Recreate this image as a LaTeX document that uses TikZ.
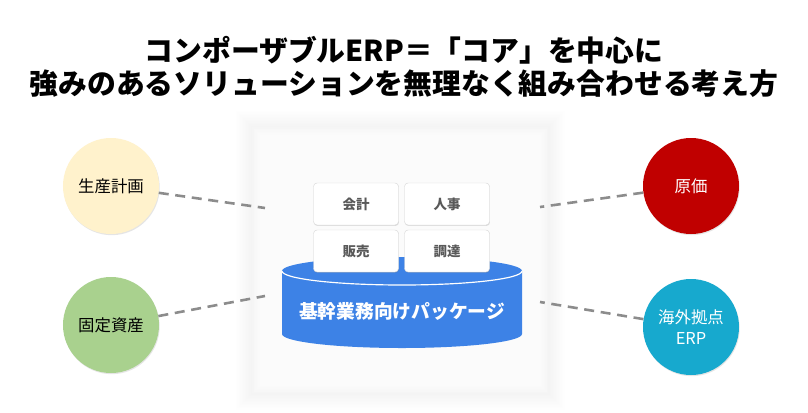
\documentclass[tikz,border=0pt]{standalone}
\usepackage{fontspec}
\setmainfont{Noto Sans CJK JP}
\usetikzlibrary{shadows}
\definecolor{cream}{HTML}{FFF2CC}
\definecolor{leaf}{HTML}{A9D18E}
\definecolor{crimson}{HTML}{C00000}
\definecolor{teal}{HTML}{17A9CE}
\definecolor{pkgblue}{HTML}{3D82E6}
\definecolor{boxgray}{HTML}{595959}
\definecolor{linegray}{HTML}{8C8C8C}
\begin{document}
\begin{tikzpicture}[
            x=0.03cm, y=-0.03cm,
            title/.style={font=\bfseries\fontsize{24.6}{30}\selectfont},
            topic/.style={circle, minimum size=2.88cm, inner sep=0pt, align=center,
              font=\fontsize{14}{18.5}\selectfont,
              drop shadow={opacity=0.2, shadow xshift=0.6pt, shadow yshift=-1pt}},
            module/.style={rectangle, draw=black!15, fill=white, rounded corners=3pt,
              minimum width=2.55cm, minimum height=1.26cm, text=boxgray,
              font=\bfseries\fontsize{11.5}{14}\selectfont,
              drop shadow={opacity=0.25, shadow xshift=0.4pt, shadow yshift=-0.8pt}},
            link/.style={draw=linegray, line width=2.2pt, dash pattern=on 0.3cm off 0.2cm}
            ]
            \useasboundingbox[fill=white] (0,0) rectangle (808,412);
            % title
            \node[title] (head1) at (404,50) {コンポーザブルERP＝「コア」を中心に};
            \node[title] (head2) at (404,84) {強みのあるソリューションを無理なく組み合わせる考え方};
            % card with soft shadow
            \foreach \i in {0,...,11}
              \fill[black, opacity=0.005] (252-\i*1.5,127-\i*1.5) rectangle (548+\i*1.5,393+\i*1.5);
            \foreach \i in {0,...,11}
              \fill[white, opacity=0.2] (252+\i*1.5,127+\i*1.5) rectangle (548-\i*1.5,393-\i*1.5);
            % package
            \fill[pkgblue] (282,271) -- (282,334)
              arc[start angle=180, end angle=360, x radius=3.6cm, y radius=0.42cm]
              -- (522,271)
              arc[start angle=0, end angle=180, x radius=3.6cm, y radius=0.42cm] -- cycle;
            \draw[white, line width=1pt] (282,271)
              arc[start angle=180, end angle=360, x radius=3.6cm, y radius=0.42cm];
            \node[white, font=\bfseries\fontsize{16}{19}\selectfont] (pkg) at (402,311) {基幹業務向けパッケージ};
            \node[module] (acct) at (356,204) {会計};
            \node[module] (hr) at (447,204) {人事};
            \node[module] (sales) at (356,251) {販売};
            \node[module] (buy) at (447,251) {調達};
            % topics
            \node[topic, fill=cream] (plan) at (111,186) {生産計画};
            \node[topic, fill=leaf] (asset) at (111,325) {固定資産};
            \node[topic, fill=crimson, text=white] (cost) at (691,186) {原価};
            \node[topic, fill=teal, text=white] (abroad) at (691,327) {海外拠点\\ERP};
            \coordinate (c1) at (265,208);
            \coordinate (c2) at (265,296);
            \coordinate (c3) at (540,207);
            \coordinate (c4) at (540,302);
            \draw[link] (plan) -- (c1);
            \draw[link] (asset) -- (c2);
            \draw[link] (cost) -- (c3);
            \draw[link] (abroad) -- (c4);
        \end{tikzpicture}
\end{document}
